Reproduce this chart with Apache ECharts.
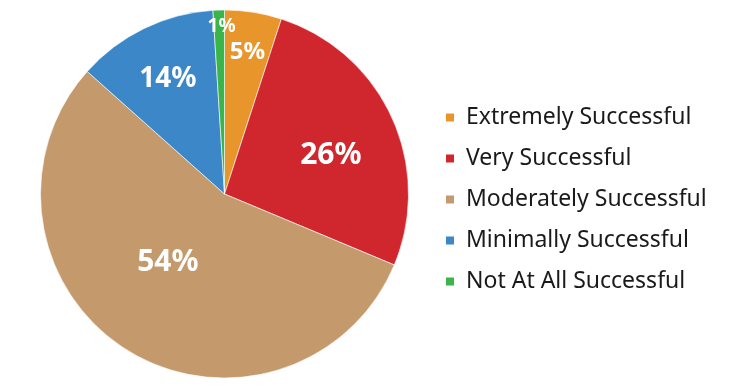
<!DOCTYPE html>
<html><head><meta charset="utf-8">
<script src="https://cdn.jsdelivr.net/npm/echarts@6/dist/echarts.min.js"></script>
<style>html,body{margin:0;padding:0;background:#fff}#c{width:731px;height:388px}</style>
</head><body><div id="c"></div>
<script>
const categories = ['Extremely Successful','Very Successful','Moderately Successful','Minimally Successful','Not At All Successful'];
const values = [5.0, 26.3, 55.3, 12.4, 1.0];
const labelTexts = ['5%', '26%', '54%', '14%', '1%'];
const colors = ['#E8962B','#D0262E','#C4996B','#3B87C8','#3AB54A'];
const labelSizes = [24, 30, 30, 28, 19];
const labelOffsets = [[8,-48],[20,1],[-6,-12],[-15,-30],[0,-72]];

const chart = echarts.init(document.getElementById('c'));
chart.setOption({
  animation: false,
  color: colors,
  legend: {
    orient: 'vertical',
    left: 439,
    top: 101,
    itemWidth: 10,
    itemHeight: 10,
    itemGap: 18,
    icon: 'rect',
    textStyle: {fontFamily: 'Noto Sans', fontSize: 23, color: '#1a1a1a', padding: [0,0,0,6]},
    data: categories
  },
  series: [{
    type: 'pie',
    center: [224.5, 194],
    radius: [0, 184],
    startAngle: 90,
    clockwise: true,
    itemStyle: {borderColor: '#fff', borderWidth: 0.6},
    label: {
      position: 'inside',
      formatter: p => labelTexts[p.dataIndex],
      color: '#fff',
      fontWeight: 'bold',
      fontFamily: 'Noto Sans'
    },
    labelLayout: function (p) {
      const o = labelOffsets[p.dataIndex];
      return {dx: o[0], dy: o[1], fontSize: labelSizes[p.dataIndex]};
    },
    data: categories.map((n, i) => ({name: n, value: values[i], label: {fontSize: labelSizes[i]}}))
  }]
});
</script></body></html>
